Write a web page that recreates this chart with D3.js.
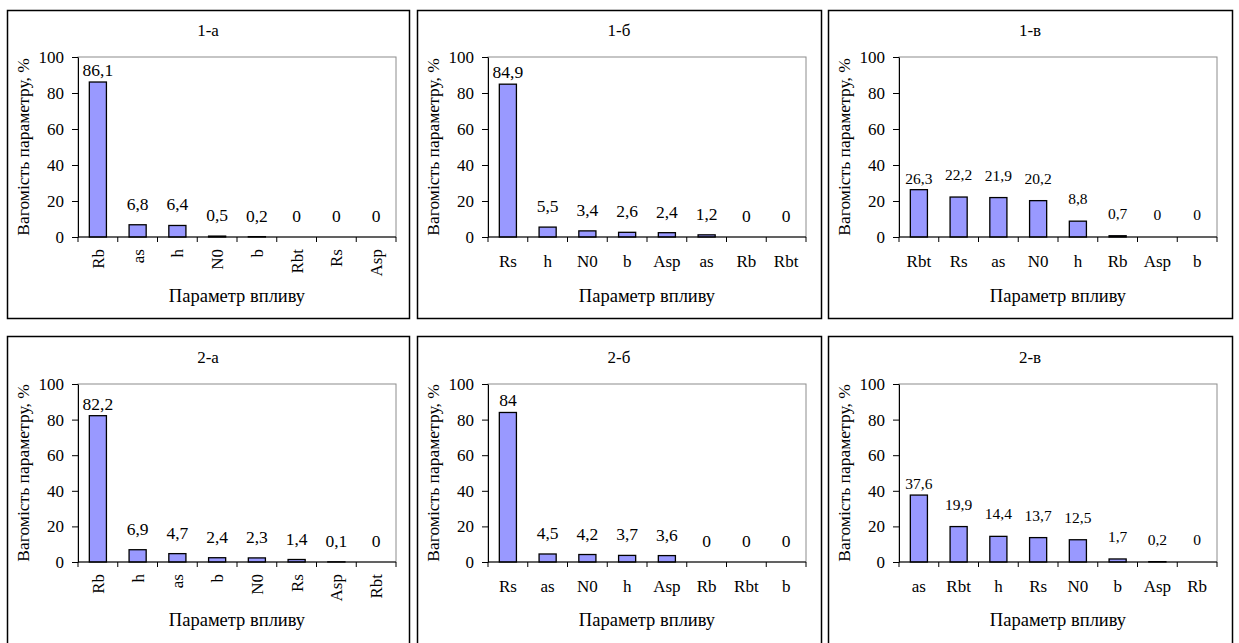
<!DOCTYPE html>
<html>
<head>
<meta charset="utf-8">
<script src="https://cdn.jsdelivr.net/npm/d3@7"></script>
<style>
  body { margin: 0; background: #fff; }
</style>
</head>
<body>
<svg width="1239" height="643"></svg>
<script>
// data
const cats1a = ["Rb", "as", "h", "N0", "b", "Rbt", "Rs", "Asp"];
const vals1a = [86.1, 6.8, 6.4, 0.5, 0.2, 0, 0, 0];
const cats1b = ["Rs", "h", "N0", "b", "Asp", "as", "Rb", "Rbt"];
const vals1b = [84.9, 5.5, 3.4, 2.6, 2.4, 1.2, 0, 0];
const cats1c = ["Rbt", "Rs", "as", "N0", "h", "Rb", "Asp", "b"];
const vals1c = [26.3, 22.2, 21.9, 20.2, 8.8, 0.7, 0, 0];
const cats2a = ["Rb", "h", "as", "b", "N0", "Rs", "Asp", "Rbt"];
const vals2a = [82.2, 6.9, 4.7, 2.4, 2.3, 1.4, 0.1, 0];
const cats2b = ["Rs", "as", "N0", "h", "Asp", "Rb", "Rbt", "b"];
const vals2b = [84, 4.5, 4.2, 3.7, 3.6, 0, 0, 0];
const cats2c = ["as", "Rbt", "h", "Rs", "N0", "b", "Asp", "Rb"];
const vals2c = [37.6, 19.9, 14.4, 13.7, 12.5, 1.7, 0.2, 0];
const yTicks = [0, 20, 40, 60, 80, 100];
const titles = ["1-а", "1-б", "1-в", "2-а", "2-б", "2-в"];
const yTitle = "Вагомість параметру, %";
const xTitle = "Параметр впливу";

// layout of the six framed charts (bottom row runs off the page)
const panels = [
  { title: titles[0], cats: cats1a, vals: vals1a, x: 7,   y: 10,  w: 402, h: 308, rot: true,  small: false },
  { title: titles[1], cats: cats1b, vals: vals1b, x: 417, y: 10,  w: 404, h: 308, rot: false, small: false },
  { title: titles[2], cats: cats1c, vals: vals1c, x: 828, y: 10,  w: 404, h: 308, rot: false, small: true },
  { title: titles[3], cats: cats2a, vals: vals2a, x: 7,   y: 336, w: 402, h: 320, rot: true,  small: false },
  { title: titles[4], cats: cats2b, vals: vals2b, x: 417, y: 336, w: 404, h: 320, rot: false, small: false },
  { title: titles[5], cats: cats2c, vals: vals2c, x: 828, y: 336, w: 404, h: 320, rot: false, small: true }
];

const svg = d3.select("svg");
const fmt = v => String(v).replace(".", ",");

panels.forEach((p, pi) => {
  const g = svg.append("g").attr("transform", `translate(${p.x},${p.y})`);

  g.append("rect")
    .attr("x", 0.5).attr("y", 0.5)
    .attr("width", p.w).attr("height", p.h)
    .attr("fill", "#fff").attr("stroke", "#000").attr("stroke-width", 1.5);

  const pl = 71, pt = pi < 3 ? 47 : 48, pw = 318, ph = pi < 3 ? 180 : 178;

  const x = d3.scaleBand().domain(p.cats).range([pl, pl + pw]).paddingInner(0.57).paddingOuter(0.285);
  const y = d3.scaleLinear().domain([0, 100]).range([pt + ph, pt]);

  // plot area frame
  g.append("rect")
    .attr("x", pl).attr("y", pt).attr("width", pw).attr("height", ph)
    .attr("fill", "none").attr("stroke", "#8c8c8c").attr("stroke-width", 1);

  // title
  g.append("text")
    .attr("x", p.w / 2).attr("y", pi < 3 ? 26 : 27)
    .attr("text-anchor", "middle").attr("font-size", 17)
    .text(p.title);

  const data = p.cats.map((c, i) => ({ c: c, v: p.vals[i], i: i }));

  // bars
  g.selectAll("rect.bar")
    .data(data.filter(d => d.v > 0))
    .enter().append("rect")
    .attr("class", "bar")
    .attr("x", d => x(d.c))
    .attr("y", d => y(d.v))
    .attr("width", x.bandwidth())
    .attr("height", d => y(0) - y(d.v))
    .attr("fill", "#9999ff")
    .attr("stroke", "#000")
    .attr("stroke-width", 1.3);

  // y axis
  const ya = g.append("g")
    .attr("transform", `translate(${pl},0)`)
    .call(d3.axisLeft(y).tickValues(yTicks).tickSize(6).tickPadding(8).tickSizeOuter(0));
  ya.select(".domain").attr("stroke", "#000");
  ya.selectAll("text").attr("font-size", 17).attr("fill", "#000");

  // x axis line and category boundary ticks
  g.append("line")
    .attr("x1", pl).attr("x2", pl + pw)
    .attr("y1", y(0)).attr("y2", y(0))
    .attr("stroke", "#000");
  d3.range(p.cats.length + 1).forEach(k => {
    const tx = pl + k * x.step();
    g.append("line")
      .attr("x1", tx).attr("x2", tx)
      .attr("y1", y(0)).attr("y2", y(0) + 5)
      .attr("stroke", "#000");
  });

  // category labels
  const cx = d => x(d.c) + x.bandwidth() / 2;
  if (p.rot) {
    g.selectAll("text.cat")
      .data(data).enter().append("text")
      .attr("class", "cat")
      .attr("transform", d => `translate(${cx(d)},${y(0) + 12}) rotate(-90)`)
      .attr("text-anchor", "end")
      .attr("dy", "0.35em")
      .attr("font-size", 17)
      .text(d => d.c);
  } else {
    g.selectAll("text.cat")
      .data(data).enter().append("text")
      .attr("class", "cat")
      .attr("x", cx)
      .attr("y", y(0) + 30)
      .attr("text-anchor", "middle")
      .attr("font-size", 17)
      .text(d => d.c);
  }

  // value labels
  g.selectAll("text.val")
    .data(data).enter().append("text")
    .attr("class", "val")
    .attr("x", cx)
    .attr("y", d => y(d.v) - (d.i === 0 ? 6 : (p.small ? 17 : 15)))
    .attr("text-anchor", "middle")
    .attr("font-size", p.small ? 15.5 : 17.5)
    .text(d => fmt(d.v));

  // axis titles
  g.append("text")
    .attr("transform", `translate(16,${pt + ph / 2}) rotate(-90)`)
    .attr("text-anchor", "middle")
    .attr("dy", "0.35em")
    .attr("font-size", 17.5)
    .text(yTitle);

  g.append("text")
    .attr("x", pl + pw / 2)
    .attr("y", pi < 3 ? 292 : 290)
    .attr("text-anchor", "middle")
    .attr("font-size", 18.5)
    .text(xTitle);
});

// Times-like serif for every label
svg.selectAll("text")
  .style("font-family", "'Liberation Serif', serif")
  .style("fill", "#000");
</script>
</body>
</html>
